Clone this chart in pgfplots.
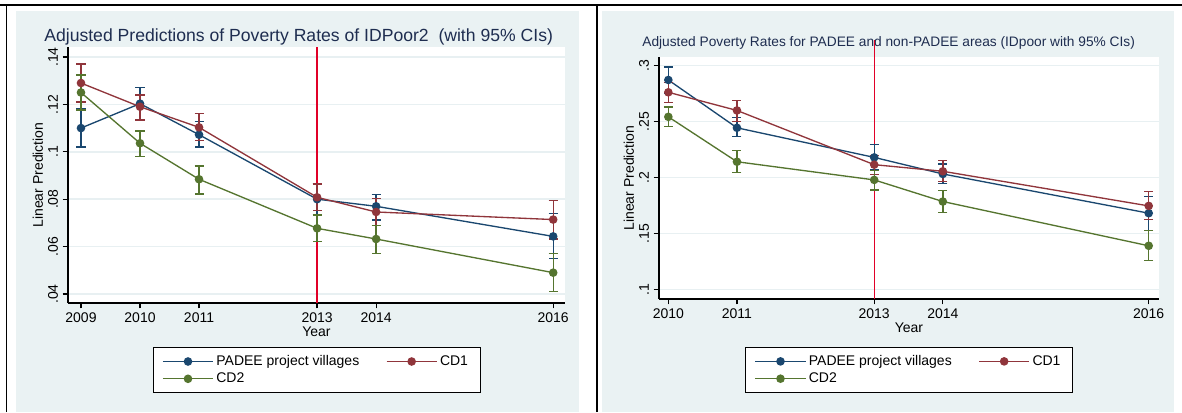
\documentclass[border=0pt]{standalone}
\usepackage{pgfplots}
\pgfplotsset{compat=1.18}
\usepackage{pgfplotstable}
\usepackage{fontspec}
\setmainfont{Liberation Sans}
\definecolor{snavy}{RGB}{26,71,111}
\definecolor{smaroon}{RGB}{144,53,59}
\definecolor{sgreen}{RGB}{85,117,47}
\definecolor{sbg}{RGB}{234,242,243}
\definecolor{sgrid}{RGB}{232,240,242}
\definecolor{stitle}{RGB}{30,45,80}
\definecolor{vred}{RGB}{225,0,40}

% left panel (2016 plotted at position 2017, as in the reference)
\pgfplotstableread{
x y lo hi
2009 0.1100 0.1020 0.1180
2010 0.1203 0.1134 0.1272
2011 0.1072 0.1020 0.1127
2013 0.0800 0.0733 0.0865
2014 0.0770 0.0712 0.0821
2017 0.0643 0.0550 0.0739
}\padeeL
\pgfplotstableread{
x y lo hi
2009 0.1290 0.1210 0.1370
2010 0.1190 0.1134 0.1240
2011 0.1103 0.1047 0.1162
2013 0.0808 0.0751 0.0864
2014 0.0746 0.0688 0.0802
2017 0.0714 0.0632 0.0794
}\cdoneL
\pgfplotstableread{
x y lo hi
2009 0.1250 0.1176 0.1324
2010 0.1036 0.0980 0.1088
2011 0.0884 0.0822 0.0940
2013 0.0677 0.0622 0.0733
2014 0.0632 0.0572 0.0688
2017 0.0490 0.0410 0.0572
}\cdtwoL
% right panel
\pgfplotstableread{
x y lo hi
2010 0.2872 0.2750 0.2988
2011 0.2445 0.2365 0.2537
2013 0.2181 0.2070 0.2294
2014 0.2033 0.1950 0.2122
2017 0.1683 0.1529 0.1831
}\padeeR
\pgfplotstableread{
x y lo hi
2010 0.2762 0.2673 0.2849
2011 0.2600 0.2502 0.2691
2013 0.2116 0.2030 0.2200
2014 0.2057 0.1964 0.2151
2017 0.1748 0.1624 0.1876
}\cdoneR
\pgfplotstableread{
x y lo hi
2010 0.2543 0.2454 0.2632
2011 0.2142 0.2045 0.2240
2013 0.1980 0.1890 0.2065
2014 0.1787 0.1689 0.1884
2017 0.1392 0.1262 0.1529
}\cdtwoR

\pgfplotsset{
  panel/.style={
    scale only axis,
    anchor=south west,
    axis x line*=bottom, axis y line*=left,
    axis line style={black, line width=0.9pt, -},
    tick style={black, line width=0.9pt},
    tick align=outside, major tick length=4pt,
    axis background/.style={fill=white},
    ymajorgrids, grid style={sgrid, line width=1.1pt},
    xmajorgrids=false,
    ticklabel style={font=\fontsize{10.5}{12}\selectfont},
    label style={font=\fontsize{10.5}{12}\selectfont},
    yticklabel style={rotate=90, anchor=south},
    xlabel={Year}, ylabel={Linear Prediction},
    xlabel style={yshift=4pt},
    ylabel style={yshift=-3pt},
    clip=false,
    legend columns=2, legend cell align=left,
    legend style={draw=black, line width=0.6pt, fill=white,
      font=\fontsize{10.5}{12}\selectfont, anchor=north,
      inner xsep=7pt, inner ysep=4pt,
      /tikz/every even column/.append style={column sep=18pt}},
    legend image code/.code={\draw[mark repeat=2,mark phase=2,##1] plot coordinates {(0cm,0cm) (0.66cm,0cm) (1.32cm,0cm)};},
    every axis plot/.append style={line width=1pt},
    error bars/y dir=both, error bars/y explicit,
    error bars/error mark=|,
    error bars/error bar style={line width=1pt},
    error bars/error mark options={line width=1pt, mark size=3.4pt},
  },
  ser/.style={color=#1, mark=*, mark size=2.7pt, mark options={solid, fill=#1}},
}

\begin{document}
\begin{tikzpicture}
\useasboundingbox (0,0) rectangle (886.5pt,309pt);
\fill[white] (0,0) rectangle (886.5pt,309pt);
\fill[sbg] (12pt,0) rectangle (434.25pt,300.75pt);
\fill[sbg] (451.5pt,0) rectangle (880.5pt,300.75pt);
\draw[black, line width=1.1pt] (0,305.25pt) -- (886.5pt,305.25pt);
\draw[black, line width=1.1pt] (4.9pt,0) -- (4.9pt,305.25pt);
\draw[black, line width=1.1pt] (447.75pt,0) -- (447.75pt,305.25pt);

\node[anchor=base, text=stitle, font=\fontsize{13.2}{15}\selectfont] at (224pt,278pt)
  {Adjusted Predictions of Poverty Rates of IDPoor2\ \ (with 95\% CIs)};
\node[anchor=base, text=stitle, font=\fontsize{10.3}{12}\selectfont] at (666.5pt,274.5pt)
  {Adjusted Poverty Rates for PADEE and non-PADEE areas (IDpoor with 95\% CIs)};

\begin{axis}[panel, at={(51pt,81.75pt)}, width=372.75pt, height=192pt,
  xmin=2008.78, xmax=2017.2, ymin=0.0362, ymax=0.1442,
  xtick={2009,2010,2011,2013,2014,2017},
  xticklabels={2009,2010,2011,2013,2014,2016},
  ytick={0.04,0.06,0.08,0.1,0.12,0.14},
  yticklabels={.04,.06,.08,.1,.12,.14},
  legend style={at={(0.5,-0.172)}}]
\addplot[vred, line width=1pt, forget plot, no marks, error bars/y dir=none] coordinates {(2013,0.0362) (2013,0.1442)};
\addplot[ser=snavy] table[x=x, y=y, y error plus expr=\thisrow{hi}-\thisrow{y}, y error minus expr=\thisrow{y}-\thisrow{lo}] {\padeeL};
\addlegendentry{PADEE project villages}
\addplot[ser=smaroon] table[x=x, y=y, y error plus expr=\thisrow{hi}-\thisrow{y}, y error minus expr=\thisrow{y}-\thisrow{lo}] {\cdoneL};
\addlegendentry{CD1}
\addplot[ser=sgreen] table[x=x, y=y, y error plus expr=\thisrow{hi}-\thisrow{y}, y error minus expr=\thisrow{y}-\thisrow{lo}] {\cdtwoL};
\addlegendentry{CD2}
\end{axis}

\begin{axis}[panel, at={(494.25pt,84.75pt)}, width=375pt, height=181.5pt,
  xmin=2009.864, xmax=2017.15, ymin=0.0917, ymax=0.3077,
  xtick={2010,2011,2013,2014,2017},
  xticklabels={2010,2011,2013,2014,2016},
  ytick={0.1,0.15,0.2,0.25,0.3},
  yticklabels={.1,.15,.2,.25,.3},
  legend style={at={(0.5,-0.198)}}]
\addplot[vred, line width=1pt, forget plot, no marks, error bars/y dir=none] coordinates {(2013,0.0917) (2013,0.3225)};
\addplot[ser=snavy] table[x=x, y=y, y error plus expr=\thisrow{hi}-\thisrow{y}, y error minus expr=\thisrow{y}-\thisrow{lo}] {\padeeR};
\addlegendentry{PADEE project villages}
\addplot[ser=smaroon] table[x=x, y=y, y error plus expr=\thisrow{hi}-\thisrow{y}, y error minus expr=\thisrow{y}-\thisrow{lo}] {\cdoneR};
\addlegendentry{CD1}
\addplot[ser=sgreen] table[x=x, y=y, y error plus expr=\thisrow{hi}-\thisrow{y}, y error minus expr=\thisrow{y}-\thisrow{lo}] {\cdtwoR};
\addlegendentry{CD2}
\end{axis}
\end{tikzpicture}
\end{document}
